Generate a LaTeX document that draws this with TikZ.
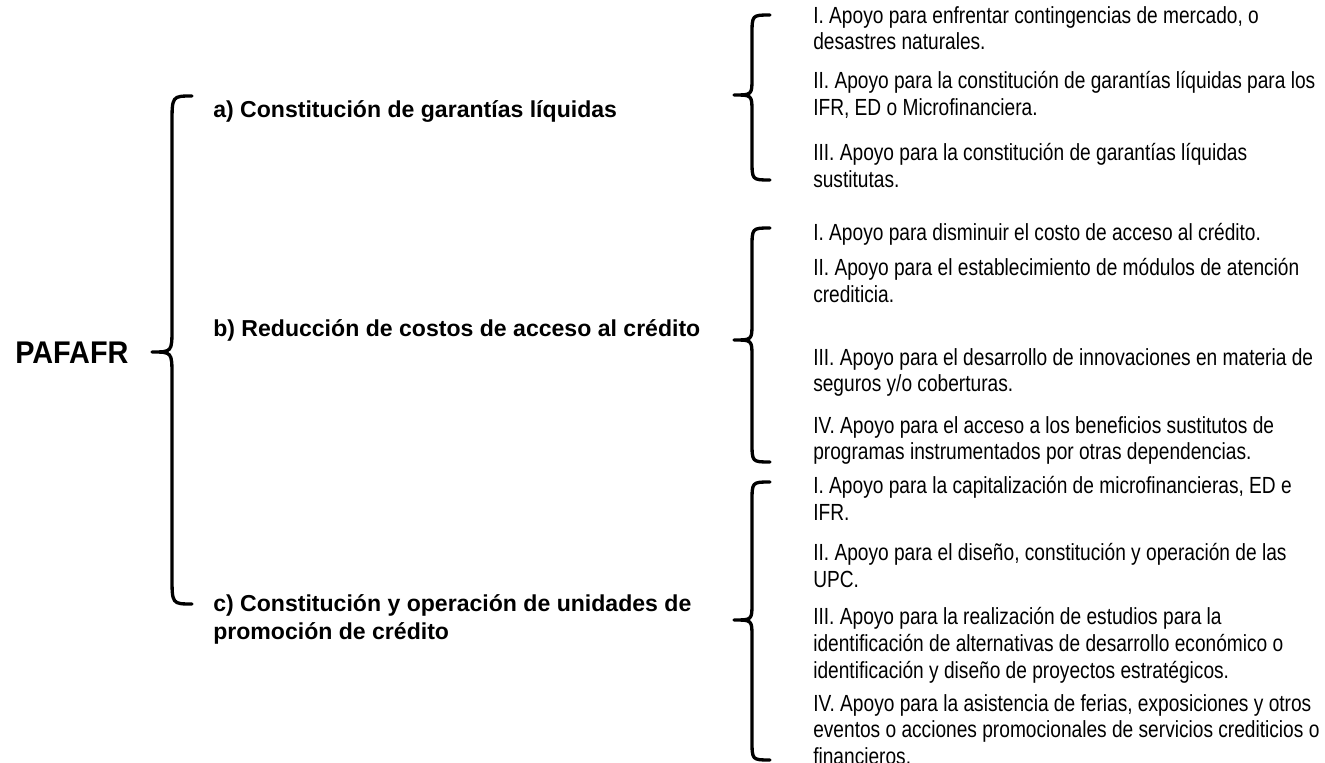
\documentclass[tikz,border=0pt]{standalone}
\usepackage{fontspec}
\setmainfont{Liberation Sans}
\newfontfamily\narrowfont[FakeStretch=0.82]{Liberation Sans}
\newfontfamily\rootfont[FakeStretch=0.92]{Liberation Sans}

\begin{document}
\begin{tikzpicture}[x=0.75pt, y=-0.75pt,
    item/.style={anchor=north west, inner sep=0pt, align=left, font=\narrowfont\fontsize{17.5}{20.1}\selectfont},
    branch/.style={anchor=north west, inner sep=0pt, align=left, font=\bfseries\fontsize{17.3}{21}\selectfont},
    curly/.style={line width=2.5pt, line cap=round, line join=round}]
            \useasboundingbox (0,0) rectangle (1325,763);
            \node[anchor=west, inner sep=0pt, font=\rootfont\bfseries\fontsize{23.5}{27}\selectfont] (root) at (15,353) {PAFAFR};

            \node[branch] (garantias) at (213,100) {a) Constitución de garantías líquidas};
            \node[branch] (costos) at (213,319) {b) Reducción de costos de acceso al crédito};
            \node[branch] (unidades) at (213,594) {c) Constitución y operación de unidades de\\promoción de crédito};

            \node[item] (ga1) at (813,6) {I. Apoyo para enfrentar contingencias de mercado, o\\desastres naturales.};
            \node[item] (ga2) at (813,71) {II. Apoyo para la constitución de garantías líquidas para los\\IFR, ED o Microfinanciera.};
            \node[item] (ga3) at (813,143) {III. Apoyo para la constitución de garantías líquidas\\sustitutas.};

            \node[item] (co1) at (813,223) {I. Apoyo para disminuir el costo de acceso al crédito.};
            \node[item] (co2) at (813,258) {II. Apoyo para el establecimiento de módulos de atención\\crediticia.};
            \node[item] (co3) at (813,348) {III. Apoyo para el desarrollo de innovaciones en materia de\\seguros y/o coberturas.};
            \node[item] (co4) at (813,416) {IV. Apoyo para el acceso a los beneficios sustitutos de\\programas instrumentados por otras dependencias.};

            \node[item] (un1) at (813,476) {I. Apoyo para la capitalización de microfinancieras, ED e\\IFR.};
            \node[item] (un2) at (813,543) {II. Apoyo para el diseño, constitución y operación de las\\UPC.};
            \node[item] (un3) at (813,607) {III. Apoyo para la realización de estudios para la\\identificación de alternativas de desarrollo económico o\\identificación y diseño de proyectos estratégicos.};
            \node[item] (un4) at (813,694) {IV. Apoyo para la asistencia de ferias, exposiciones y otros\\eventos o acciones promocionales de servicios crediticios o\\financieros.};

            % braces
            \draw[curly] (192,96) .. controls (172,96) .. (172,124) -- (172,328) .. controls (172,352) .. (152,352)
                .. controls (172,352) .. (172,376) -- (172,576) .. controls (172,604) .. (192,604);
            \draw[curly] (770,15) .. controls (752,15) .. (752,35) -- (752,78) .. controls (752,95) .. (734,95)
                .. controls (752,95) .. (752,112) -- (752,160) .. controls (752,180) .. (770,180);
            \draw[curly] (770,228) .. controls (752,228) .. (752,248) -- (752,323) .. controls (752,340) .. (734,340)
                .. controls (752,340) .. (752,357) -- (752,442) .. controls (752,462) .. (770,462);
            \draw[curly] (770,482) .. controls (752,482) .. (752,502) -- (752,603) .. controls (752,620) .. (734,620)
                .. controls (752,620) .. (752,637) -- (752,740) .. controls (752,760) .. (770,760);
        \end{tikzpicture}
\end{document}
